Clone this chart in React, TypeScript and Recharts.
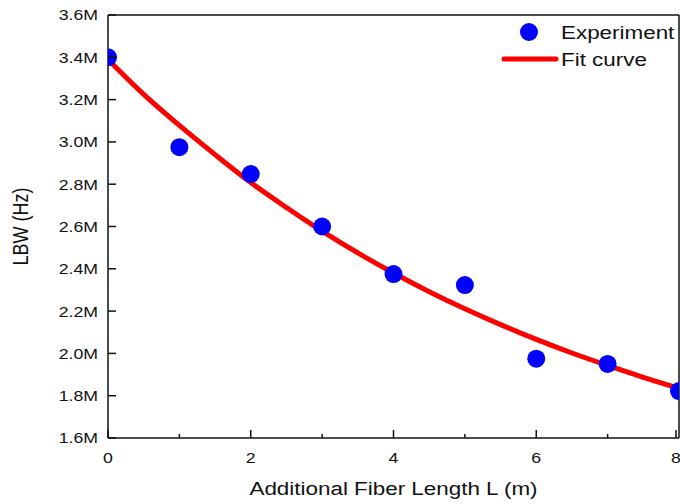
import {
  ComposedChart,
  Line,
  ReferenceLine,
  Scatter,
  XAxis,
  YAxis,
} from "recharts";

// measured points
const lengthM = [0, 1, 2, 3, 4, 5, 6, 7, 8];
const lbwHz = [3400000, 2975000, 2848000, 2600000, 2375000, 2323000, 1975000, 1950000, 1822000];

// fit curve
const fitLengthM = [0, 0.5, 1, 1.5, 2, 2.5, 3, 3.5, 4, 4.5, 5, 5.5, 6, 6.5, 7, 7.5, 8];
const fitHz = [
  3390000, 3225000, 3078000, 2940000, 2808000, 2690000, 2578000, 2475000, 2380000,
  2292000, 2211000, 2136000, 2066000, 2002000, 1943000, 1887000, 1835000,
];

const xMajor = [0, 2, 4, 6, 8];
const xMinor = [1, 3, 5, 7];
const yMajor = [1600000, 1800000, 2000000, 2200000, 2400000, 2600000, 2800000, 3000000, 3200000, 3400000, 3600000];
const yMinor = [1700000, 1900000, 2100000, 2300000, 2500000, 2700000, 2900000, 3100000, 3300000, 3500000];

const expData = lengthM.map((x, i) => ({ x, lbw: lbwHz[i] }));
const fitData = fitLengthM.map((x, i) => ({ x, fit: fitHz[i] }));

const FONT = "'Liberation Sans', Arial, sans-serif";
const STRETCH = 1.18;
const INK = "#111";

const fmtM = (v: number) => `${(v / 1e6).toFixed(1)}M`;

function XTick(props: any) {
  const { x, y, payload } = props;
  const major = xMajor.includes(payload.value);
  return (
    <g>
      <line x1={x} x2={x} y1={y} y2={y - (major ? 8 : 4)} stroke={INK} strokeWidth={1.5} />
      {major && (
        <text
          transform={`translate(${x},${y + 25}) scale(${STRETCH},1)`}
          textAnchor="middle"
          fontSize={15}
          fontFamily={FONT}
          fill={INK}
        >
          {payload.value}
        </text>
      )}
    </g>
  );
}

function YTick(props: any) {
  const { x, y, payload } = props;
  const major = yMajor.includes(payload.value);
  return (
    <g>
      <line x1={x} x2={x + (major ? 8 : 4)} y1={y} y2={y} stroke={INK} strokeWidth={1.5} />
      {major && (
        <text
          transform={`translate(${x - 10},${y}) scale(${STRETCH},1)`}
          textAnchor="end"
          dy="0.36em"
          fontSize={15}
          fontFamily={FONT}
          fill={INK}
        >
          {fmtM(payload.value)}
        </text>
      )}
    </g>
  );
}

function XLabel(props: any) {
  const { x, y, width } = props.viewBox;
  return (
    <text
      transform={`translate(${x + width / 2},${y + 57}) scale(${STRETCH},1)`}
      textAnchor="middle"
      fontSize={19}
      fontFamily={FONT}
      fill={INK}
    >
      Additional Fiber Length L (m)
    </text>
  );
}

function YLabel(props: any) {
  const { x, y, height } = props.viewBox;
  return (
    <text
      transform={`translate(${x + 28},${y + height / 2}) scale(${STRETCH},1) rotate(-90)`}
      textAnchor="middle"
      fontSize={18}
      fontFamily={FONT}
      fill={INK}
    >
      LBW (Hz)
    </text>
  );
}

function LegendBox() {
  return (
    <svg width={190} height={60} style={{ display: "block" }}>
      <circle cx={39} cy={17} r={9} fill="#0000ff" />
      <text transform={`translate(71,24) scale(${STRETCH},1)`} fontSize={19} fontFamily={FONT} fill={INK}>
        Experiment
      </text>
      <line x1={14} x2={66} y1={44} y2={44} stroke="#ff0000" strokeWidth={5} strokeLinecap="round" />
      <text transform={`translate(71,51) scale(${STRETCH},1)`} fontSize={19} fontFamily={FONT} fill={INK}>
        Fit curve
      </text>
    </svg>
  );
}

export default function App() {
  return (
    <div style={{ position: "absolute", left: 0, top: 0, width: 680, height: 504, background: "#fff" }}>
      <ComposedChart width={680} height={504} margin={{ top: 15, right: 1, bottom: 0, left: 0 }}>
        <XAxis
          type="number"
          dataKey="x"
          domain={[0, 8]}
          ticks={[...xMajor, ...xMinor].sort((a, b) => a - b)}
          allowDataOverflow
          height={66}
          tickLine={false}
          tickSize={0}
          tickMargin={0}
          tick={<XTick />}
          axisLine={{ stroke: INK, strokeWidth: 1.5 }}
          label={<XLabel />}
        />
        <YAxis
          type="number"
          domain={[1600000, 3600000]}
          ticks={[...yMajor, ...yMinor].sort((a, b) => a - b)}
          allowDataOverflow
          width={108}
          tickLine={false}
          tickSize={0}
          tickMargin={0}
          tick={<YTick />}
          axisLine={{ stroke: INK, strokeWidth: 1.5 }}
          label={<YLabel />}
        />
        <ReferenceLine y={3600000} stroke={INK} strokeWidth={1.5} ifOverflow="visible" />
        <ReferenceLine x={8} stroke={INK} strokeWidth={1.5} ifOverflow="visible" />
        <Scatter
          data={expData}
          dataKey="lbw"
          name="Experiment"
          isAnimationActive={false}
          shape={(p: any) => <circle cx={p.cx} cy={p.cy} r={9} fill="#0000ff" />}
        />
        <Line
          data={fitData}
          dataKey="fit"
          name="Fit curve"
          type="monotone"
          stroke="#ff0000"
          strokeWidth={5}
          dot={false}
          activeDot={false}
          isAnimationActive={false}
        />
      </ComposedChart>
      <div style={{ position: "absolute", left: 490, top: 15 }}>
        <LegendBox />
      </div>
    </div>
  );
}
